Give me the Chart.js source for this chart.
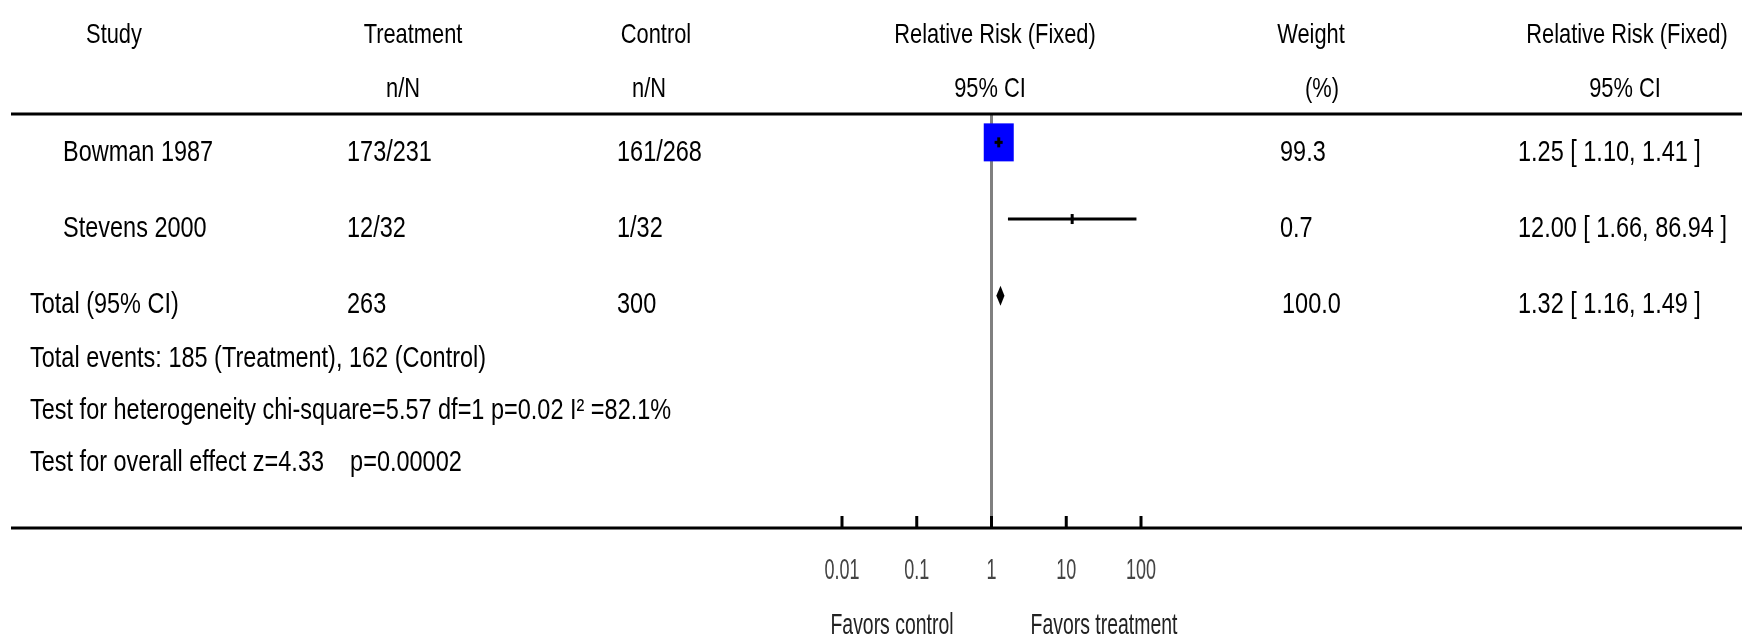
<!DOCTYPE html>
<html>
<head>
<meta charset="utf-8">
<script src="https://cdn.jsdelivr.net/npm/chart.js@4/dist/chart.umd.min.js"></script>
<style>
  html, body { margin: 0; padding: 0; background: #fff; }
  #forest { display: block; }
</style>
</head>
<body>
<canvas id="forest" width="1742" height="634"></canvas>
<script>
// study rows
const studies = ["Bowman 1987", "Stevens 2000"];
const treatment = ["173/231", "12/32"];
const control = ["161/268", "1/32"];
const riskRatio = [1.25, 12.00];
const ciLow = [1.10, 1.66];
const ciHigh = [1.41, 86.94];
const weights = [99.3, 0.7];

// pooled row
const totalLabel = "Total (95% CI)";
const totalTreatment = "263";
const totalControl = "300";
const totalRR = 1.32;
const totalLow = 1.16;
const totalHigh = 1.49;
const totalWeight = 100.0;

const statLines = [
    "Total events: 185 (Treatment), 162 (Control)",
    "Test for heterogeneity chi-square=5.57 df=1 p=0.02 I\u00b2 =82.1%",
    "Test for overall effect z=4.33    p=0.00002"
];

const tickValues = [0.01, 0.1, 1, 10, 100];
const tickLabels = ["0.01", "0.1", "1", "10", "100"];

const FONT = "'Liberation Sans', Arial, sans-serif";

function txt(ctx, s, x, y, align, size, sx, color) {
    ctx.save();
    ctx.font = size + "px " + FONT;
    ctx.fillStyle = color || "#000";
    ctx.textAlign = align;
    ctx.textBaseline = "middle";
    ctx.translate(x, y);
    ctx.scale(sx, 1);
    ctx.fillText(s, 0, 0);
    ctx.restore();
}

function ciText(v, lo, hi) {
    return v.toFixed(2) + " [ " + lo.toFixed(2) + ", " + hi.toFixed(2) + " ]";
}

const forestPlugin = {
    id: "forest",
    beforeDatasetsDraw(chart) {
        const ctx = chart.ctx;
        const xs = chart.scales.x, ys = chart.scales.y;
        const area = chart.chartArea;
        // line of no effect
        ctx.save();
        ctx.strokeStyle = "#808080";
        ctx.lineWidth = 3;
        ctx.beginPath();
        ctx.moveTo(xs.getPixelForValue(1), area.top);
        ctx.lineTo(xs.getPixelForValue(1), area.bottom);
        ctx.stroke();
        // weight boxes
        const maxW = Math.max(...weights);
        ctx.fillStyle = "#0000ff";
        riskRatio.forEach((v, i) => {
            const k = Math.sqrt(weights[i] / maxW);
            const w = 30 * k, h = 38 * k;
            const px = xs.getPixelForValue(v), py = ys.getPixelForValue(i);
            ctx.fillRect(px - w / 2, py - h / 2, w, h);
        });
        ctx.restore();
    },
    afterDatasetsDraw(chart) {
        const ctx = chart.ctx;
        const xs = chart.scales.x, ys = chart.scales.y;
        const area = chart.chartArea;
        ctx.save();
        // pooled diamond
        const dy = ys.getPixelForValue(studies.length);
        ctx.fillStyle = "#000";
        ctx.beginPath();
        ctx.moveTo(xs.getPixelForValue(totalLow), dy);
        ctx.lineTo(xs.getPixelForValue(totalRR), dy - 10);
        ctx.lineTo(xs.getPixelForValue(totalHigh), dy);
        ctx.lineTo(xs.getPixelForValue(totalRR), dy + 10);
        ctx.closePath();
        ctx.fill();
        // rules
        ctx.strokeStyle = "#000";
        ctx.lineWidth = 3;
        ctx.beginPath();
        ctx.moveTo(11, area.top);
        ctx.lineTo(chart.width, area.top);
        ctx.moveTo(11, area.bottom);
        ctx.lineTo(chart.width, area.bottom);
        ctx.stroke();
        // tick marks pointing up, labels below
        ctx.beginPath();
        xs.ticks.forEach(t => {
            const px = xs.getPixelForValue(t.value);
            ctx.moveTo(px, area.bottom - 12);
            ctx.lineTo(px, area.bottom);
        });
        ctx.stroke();
        ctx.restore();
        xs.ticks.forEach((t, i) => {
            txt(ctx, tickLabels[i], xs.getPixelForValue(t.value), area.bottom + 43, "center", 29, 0.62, "#444");
        });
    },
    afterDraw(chart) {
        const ctx = chart.ctx;
        const ys = chart.scales.y;
        const H = 28, HX = 0.78, B = 29, BX = 0.81;
        // headers
        const h1 = 35, h2 = 89;
        txt(ctx, "Study", 114, h1, "center", H, HX);
        txt(ctx, "Treatment", 413, h1, "center", H, HX);
        txt(ctx, "n/N", 403, h2, "center", H, HX);
        txt(ctx, "Control", 656, h1, "center", H, HX);
        txt(ctx, "n/N", 649, h2, "center", H, HX);
        txt(ctx, "Relative Risk (Fixed)", 995, h1, "center", H, HX);
        txt(ctx, "95% CI", 990, h2, "center", H, HX);
        txt(ctx, "Weight", 1311, h1, "center", H, HX);
        txt(ctx, "(%)", 1322, h2, "center", H, HX);
        txt(ctx, "Relative Risk (Fixed)", 1627, h1, "center", H, HX);
        txt(ctx, "95% CI", 1625, h2, "center", H, HX);
        // study rows
        studies.forEach((s, i) => {
            const y = ys.getPixelForValue(i) + (i === 0 ? 11 : 10);
            txt(ctx, s, 63, y, "left", B, BX);
            txt(ctx, treatment[i], 347, y, "left", B, BX);
            txt(ctx, control[i], 617, y, "left", B, BX);
            txt(ctx, weights[i].toFixed(1), 1280, y, "left", B, BX);
            txt(ctx, ciText(riskRatio[i], ciLow[i], ciHigh[i]), 1518, y, "left", B, BX);
        });
        const ty = ys.getPixelForValue(studies.length) + 9;
        txt(ctx, totalLabel, 30, ty, "left", B, BX);
        txt(ctx, totalTreatment, 347, ty, "left", B, BX);
        txt(ctx, totalControl, 617, ty, "left", B, BX);
        txt(ctx, totalWeight.toFixed(1), 1282, ty, "left", B, BX);
        txt(ctx, ciText(totalRR, totalLow, totalHigh), 1518, ty, "left", B, BX);
        statLines.forEach((s, i) => {
            txt(ctx, s, 30, ty + 54 + i * 52, "left", B, BX);
        });
        // favours labels
        txt(ctx, "Favors control", 892, 626, "center", 29, 0.67, "#222");
        txt(ctx, "Favors treatment", 1104, 626, "center", 29, 0.67, "#222");
    }
};

const ciSets = riskRatio.map((v, i) => ({
    type: "line",
    data: [{ x: ciLow[i], y: i }, { x: ciHigh[i], y: i }],
    borderColor: "#000",
    borderWidth: 3,
    pointRadius: 0,
    order: 2
}));

new Chart(document.getElementById("forest"), {
    type: "scatter",
    data: {
        datasets: [
            ...ciSets,
            {
                data: riskRatio.map((v, i) => ({ x: v, y: i })),
                pointStyle: "line",
                rotation: 90,
                radius: 5,
                borderWidth: 3,
                borderColor: "#000",
                backgroundColor: "#000",
                order: 1
            }
        ]
    },
    options: {
        responsive: false,
        animation: false,
        devicePixelRatio: 1,
        layout: { padding: { left: 842, right: 601, top: 114, bottom: 46 } },
        plugins: { legend: { display: false }, tooltip: { enabled: false } },
        scales: {
            x: {
                type: "logarithmic",
                min: 0.01,
                max: 100,
                afterBuildTicks: s => { s.ticks = tickValues.map(v => ({ value: v })); },
                afterFit: s => { s.height = 60; },
                grid: { display: false, drawTicks: false },
                border: { display: false },
                ticks: { display: false }
            },
            y: {
                type: "linear",
                display: false,
                reverse: true,
                min: -0.37,
                max: 5.03
            }
        }
    },
    plugins: [forestPlugin]
});
</script>
</body>
</html>
